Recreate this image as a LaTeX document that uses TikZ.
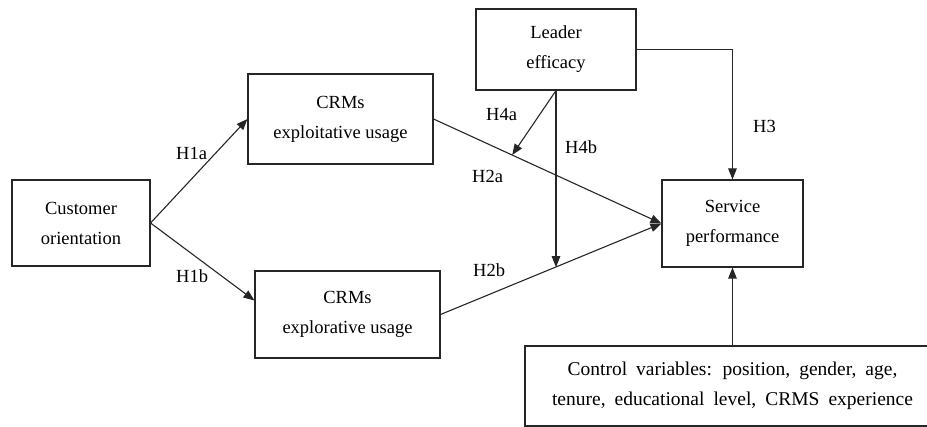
\documentclass[tikz,border=0pt]{standalone}
\usepackage{fontspec}
\setmainfont{Liberation Serif}
\usetikzlibrary{arrows.meta,positioning,calc}
\tikzstyle{block} = [rectangle, draw=black!85, line width=1.1pt, inner sep=0pt, align=center, font=\fontsize{18.5}{30}\selectfont]
\tikzstyle{arrow} = [line width=1.1pt, draw=black!85, -{Triangle[length=11pt,width=8.5pt]}]
\tikzstyle{hyp} = [anchor=base west, inner sep=0pt, font=\fontsize{18.5}{22}\selectfont]
\newcommand{\widespaces}{\spaceskip=9pt\relax}

\begin{document}
\begin{tikzpicture}[x=1pt, y=-1pt]
        \clip (0,0) rectangle (927,427);
        \node (cust) [block, minimum width=138pt, minimum height=86pt] at (81,223) {Customer\\orientation};
        \node (exploit) [block, minimum width=185pt, minimum height=90pt] at (340.5,119) {CRMs\\exploitative usage};
        \node (explor) [block, minimum width=185pt, minimum height=87pt] at (347.5,314.5) {CRMs\\explorative usage};
        \node (leader) [block, minimum width=160pt, minimum height=81pt] at (556,49.5) {Leader\\efficacy};
        \node (serv) [block, minimum width=141pt, minimum height=87pt] at (732.5,223.5) {Service\\performance};
        \node (ctrl) [block, minimum width=415pt, minimum height=80pt, font=\fontsize{19.5}{30}\selectfont] at (732.5,386) {\widespaces Control variables: position, gender, age,\\\widespaces tenure, educational level, CRMS experience};
        % paths
        \draw [arrow] (cust.east) -- (exploit.west);
        \draw [arrow] (cust.east) -- ([yshift=14pt]explor.west);
        \draw [arrow] (exploit.east) -- (serv.west) coordinate[pos=0.345] (mod1);
        \draw [arrow] (explor.east) -- (serv.west) coordinate[pos=0.52] (mod2);
        \draw [arrow] (leader.south) -- (mod1);
        \draw [arrow] (leader.south) -- (leader.south |- mod2);
        \draw [arrow] (leader.east) -| (serv.north);
        \draw [arrow] (ctrl.north) -- (serv.south);
        % labels
        \node (h1a) [hyp] at (176,160) {H1a};
        \node (h1b) [hyp] at (176,283) {H1b};
        \node (h2a) [hyp] at (472,183) {H2a};
        \node (h2b) [hyp] at (473,277) {H2b};
        \node (h3) [hyp] at (753,133) {H3};
        \node (h4a) [hyp] at (486,121) {H4a};
        \node (h4b) [hyp] at (565,154) {H4b};
\end{tikzpicture}
\end{document}
